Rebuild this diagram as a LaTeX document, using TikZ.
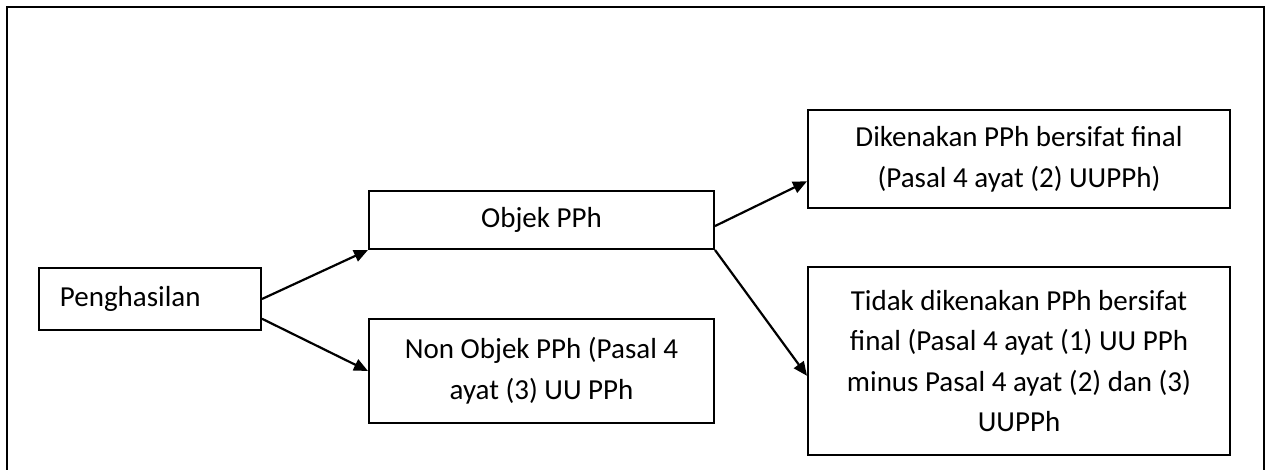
\documentclass[tikz,border=0pt]{standalone}
\usepackage{fontspec}
\setmainfont{Carlito}
\usetikzlibrary{arrows.meta}
\tikzset{
  box/.style={draw, line width=1pt, anchor=north west, inner sep=0pt,
    align=center, minimum width=#1, font=\fontsize{14.5pt}{20.3pt}\selectfont},
  box/.default=172.5pt,
  link/.style={line width=1.1pt, -{Triangle[length=7pt,width=6pt]}},
  frame/.style={line width=1pt},
}
\begin{document}
\begin{tikzpicture}[x=0.5pt, y=-0.5pt]
\useasboundingbox (0,0) rectangle (1271,470);

% ---- outer frame (bottom edge runs off the page) ----
\draw[frame] (7,470) -- (7,7) -- (1264,7) -- (1264,470);

% ---- boxes ----
\node[box=111pt, minimum height=31pt, align=left, text width=90pt, inner xsep=10.5pt]
  (income) at (38,267) {Penghasilan};
\node[box, minimum height=29pt] (obj) at (368,190) {Objek PPh};
\node[box, minimum height=52pt] (nonobj) at (368,318)
  {Non Objek PPh (Pasal 4\\ayat (3) UU PPh};
\node[box=211pt, minimum height=49pt] (final) at (807,109)
  {Dikenakan PPh bersifat final\\(Pasal 4 ayat (2) UUPPh)};
\node[box=211pt, minimum height=94pt] (nonfinal) at (807,266)
  {Tidak dikenakan PPh bersifat\\final (Pasal 4 ayat (1) UU PPh\\minus Pasal 4 ayat (2) dan (3)\\UUPPh};

% ---- arrows ----
\draw[link] (income.east) -- (obj.south west);
\draw[link] (income.-10) -- (nonobj.west);
\draw[link] (obj.-2) -- (final.186);
\draw[link] (obj.south east) -- (nonfinal.184);

\end{tikzpicture}
\end{document}
